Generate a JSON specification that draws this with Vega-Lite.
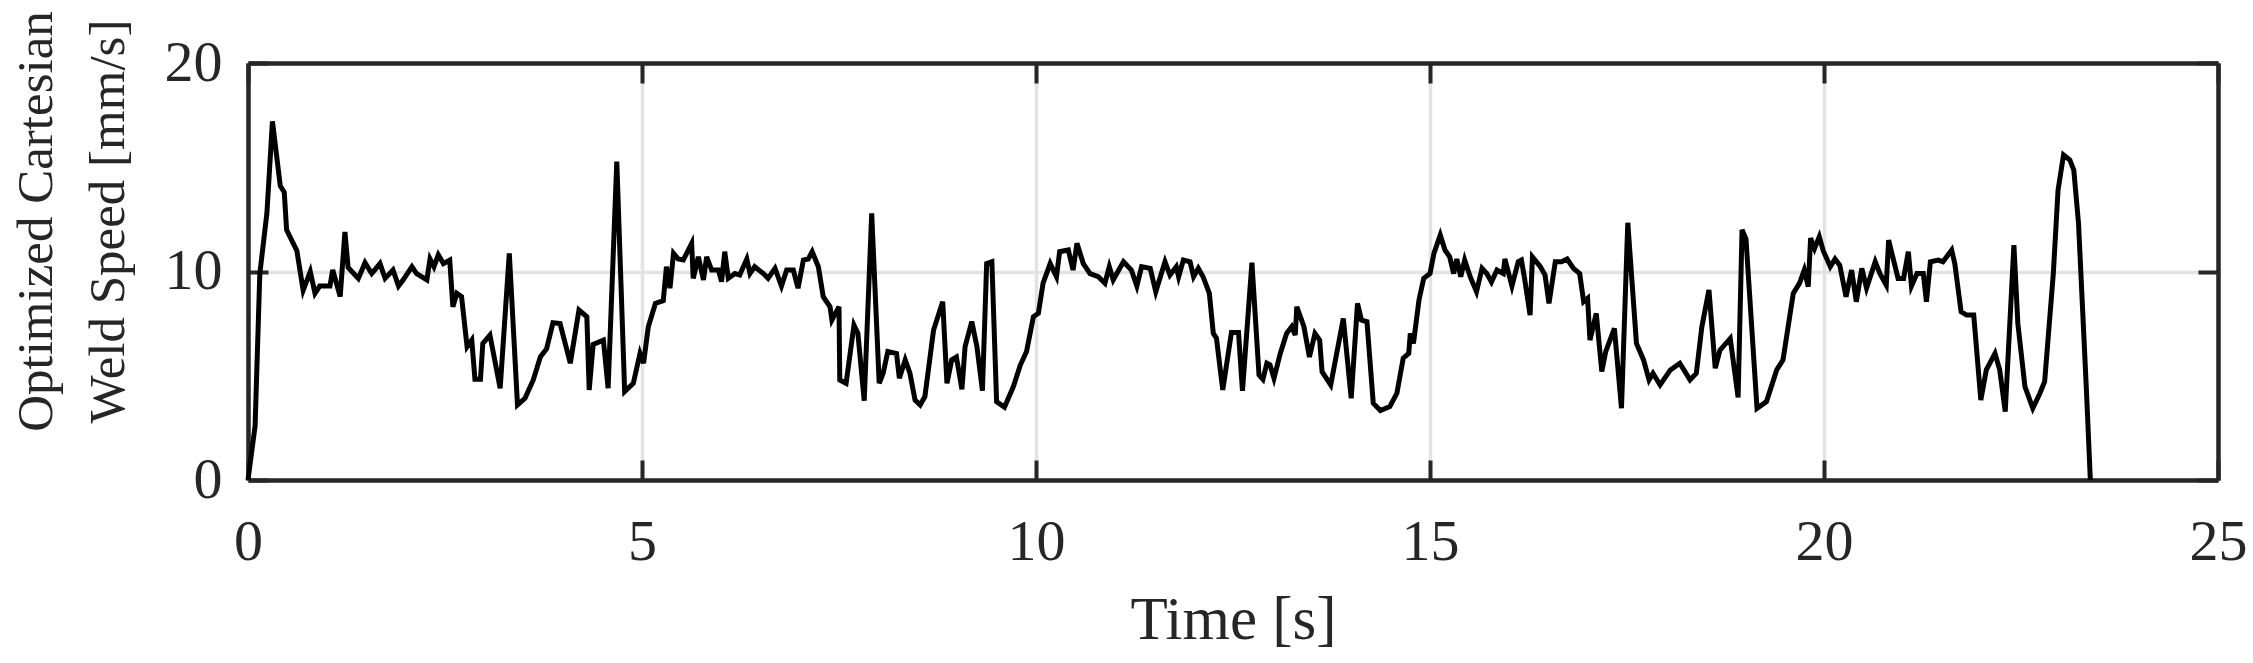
{
  "$schema": "https://vega.github.io/schema/vega-lite/v6.json",
  "width": 1970,
  "height": 417,
  "autosize": {"type": "none"},
  "padding": {"left": 248, "top": 63, "right": 35, "bottom": 183},
  "background": "white",
  "config": {"view": {"stroke": null}, "font": "Liberation Serif"},
  "data": {"values": [
    {"t":0,"v":0},{"t":0.09,"v":2.6},{"t":0.15,"v":9.9},{"t":0.24,"v":12.8},{"t":0.31,"v":17.2},{"t":0.41,"v":14.1},{"t":0.46,"v":13.8},{"t":0.49,"v":12.0},{"t":0.62,"v":11.0},{"t":0.70,"v":9.1},{"t":0.79,"v":10.0},{"t":0.85,"v":8.95},{"t":0.91,"v":9.3},{"t":1.04,"v":9.3},{"t":1.075,"v":10.07},{"t":1.17,"v":8.8},{"t":1.23,"v":11.9},{"t":1.27,"v":10.2},{"t":1.40,"v":9.67},{"t":1.485,"v":10.42},{"t":1.57,"v":9.9},{"t":1.675,"v":10.38},{"t":1.74,"v":9.67},{"t":1.84,"v":10.07},{"t":1.91,"v":9.3},{"t":1.97,"v":9.6},{"t":2.08,"v":10.23},{"t":2.14,"v":9.9},{"t":2.27,"v":9.6},{"t":2.31,"v":10.6},{"t":2.36,"v":10.23},{"t":2.415,"v":10.8},{"t":2.48,"v":10.38},{"t":2.56,"v":10.55},{"t":2.60,"v":8.31},{"t":2.65,"v":8.95},{"t":2.71,"v":8.79},{"t":2.78,"v":6.39},{"t":2.84,"v":6.71},{"t":2.88,"v":4.83},{"t":2.95,"v":4.83},{"t":2.98,"v":6.55},{"t":3.07,"v":6.95},{"t":3.20,"v":4.4},{"t":3.316,"v":10.87},{"t":3.42,"v":3.6},{"t":3.515,"v":3.92},{"t":3.62,"v":4.8},{"t":3.71,"v":5.9},{"t":3.79,"v":6.3},{"t":3.87,"v":7.54},{"t":3.96,"v":7.5},{"t":4.09,"v":5.6},{"t":4.20,"v":8.15},{"t":4.30,"v":7.83},{"t":4.33,"v":4.32},{"t":4.38,"v":6.5},{"t":4.51,"v":6.71},{"t":4.57,"v":4.4},{"t":4.68,"v":15.27},{"t":4.78,"v":4.24},{"t":4.89,"v":4.64},{"t":4.975,"v":6.07},{"t":5.02,"v":5.6},{"t":5.08,"v":7.35},{"t":5.17,"v":8.47},{"t":5.27,"v":8.6},{"t":5.31,"v":10.23},{"t":5.355,"v":9.2},{"t":5.40,"v":10.87},{"t":5.46,"v":10.6},
    {"t":5.524,"v":10.55},{"t":5.63,"v":11.35},{"t":5.65,"v":9.67},{"t":5.715,"v":10.7},{"t":5.78,"v":9.6},{"t":5.82,"v":10.7},{"t":5.884,"v":10.07},{"t":5.97,"v":10.07},{"t":6.01,"v":9.51},{"t":6.05,"v":10.95},{"t":6.095,"v":9.67},{"t":6.18,"v":9.9},{"t":6.24,"v":9.83},{"t":6.33,"v":10.6},{"t":6.37,"v":9.9},{"t":6.43,"v":10.23},{"t":6.54,"v":9.9},{"t":6.6,"v":9.67},{"t":6.688,"v":10.15},{"t":6.77,"v":9.3},{"t":6.836,"v":10.07},{"t":6.92,"v":10.07},{"t":6.98,"v":9.2},{"t":7.048,"v":10.55},{"t":7.11,"v":10.6},{"t":7.16,"v":10.95},{"t":7.238,"v":10.23},{"t":7.3,"v":8.79},{"t":7.386,"v":8.31},{"t":7.41,"v":7.67},{"t":7.50,"v":8.31},{"t":7.51,"v":4.8},{"t":7.59,"v":4.64},{"t":7.69,"v":7.43},{"t":7.74,"v":7.03},{"t":7.82,"v":3.8},{"t":7.915,"v":12.79},{"t":8.01,"v":4.64},{"t":8.06,"v":5.12},{"t":8.12,"v":6.16},{"t":8.23,"v":6.07},{"t":8.266,"v":4.88},{"t":8.34,"v":5.76},{"t":8.4,"v":5.12},{"t":8.465,"v":3.84},{"t":8.53,"v":3.6},{"t":8.59,"v":4.0},{"t":8.7,"v":7.19},{"t":8.816,"v":8.55},{"t":8.87,"v":4.64},{"t":8.93,"v":5.76},{"t":8.99,"v":5.9},{"t":9.06,"v":4.35},{"t":9.1,"v":6.4},{"t":9.185,"v":7.6},{"t":9.25,"v":6.4},{"t":9.32,"v":4.28},{"t":9.374,"v":10.38},{"t":9.44,"v":10.47},{"t":9.5,"v":3.76},{"t":9.6,"v":3.49},{"t":9.713,"v":4.48},{"t":9.8,"v":5.5},{"t":9.88,"v":6.16},{"t":9.967,"v":7.83},{"t":10.03,"v":7.99},{"t":10.09,"v":9.44},{"t":10.18,"v":10.38},{"t":10.26,"v":9.75},{"t":10.3,"v":10.95},{"t":10.41,"v":11.03},{"t":10.47,"v":10.07},{"t":10.52,"v":11.35},{"t":10.6,"v":10.38},{"t":10.686,"v":9.9},{"t":10.79,"v":9.75},
    {"t":10.875,"v":9.44},{"t":10.93,"v":10.23},{"t":10.98,"v":9.6},{"t":11.11,"v":10.47},{"t":11.21,"v":10.07},{"t":11.28,"v":9.3},{"t":11.34,"v":10.23},{"t":11.45,"v":10.15},{"t":11.52,"v":9.03},{"t":11.637,"v":10.47},{"t":11.7,"v":9.83},{"t":11.78,"v":10.23},{"t":11.81,"v":9.75},{"t":11.87,"v":10.55},{"t":11.955,"v":10.47},{"t":12.0,"v":9.75},{"t":12.06,"v":10.15},{"t":12.12,"v":9.75},{"t":12.2,"v":8.95},{"t":12.25,"v":7.03},{"t":12.29,"v":6.8},{"t":12.37,"v":4.32},{"t":12.48,"v":7.07},{"t":12.57,"v":7.07},{"t":12.62,"v":4.28},{"t":12.74,"v":10.42},{"t":12.83,"v":5.04},{"t":12.88,"v":4.83},{"t":12.93,"v":5.6},{"t":12.97,"v":5.52},{"t":13.02,"v":4.88},{"t":13.1,"v":6.07},{"t":13.18,"v":7.03},{"t":13.245,"v":7.35},{"t":13.29,"v":6.95},{"t":13.31,"v":8.31},{"t":13.4,"v":7.35},{"t":13.47,"v":5.9},{"t":13.54,"v":7.03},{"t":13.6,"v":6.71},{"t":13.63,"v":5.2},{"t":13.74,"v":4.56},{"t":13.9,"v":7.75},{"t":14.0,"v":3.92},{"t":14.08,"v":8.47},{"t":14.13,"v":7.67},{"t":14.2,"v":7.59},{"t":14.28,"v":3.68},{"t":14.37,"v":3.33},{"t":14.49,"v":3.52},{"t":14.58,"v":4.16},{"t":14.66,"v":5.84},{"t":14.73,"v":6.07},{"t":14.75,"v":7.03},{"t":14.79,"v":6.55},{"t":14.86,"v":8.63},{"t":14.92,"v":9.67},{"t":15.0,"v":9.9},{"t":15.05,"v":10.87},{"t":15.13,"v":11.75},{"t":15.19,"v":11.03},{"t":15.25,"v":10.7},{"t":15.3,"v":9.9},{"t":15.34,"v":10.6},{"t":15.39,"v":9.75},{"t":15.44,"v":10.55},{"t":15.51,"v":9.75},{"t":15.59,"v":9.03},{"t":15.66,"v":10.15},{"t":15.72,"v":9.9},{"t":15.78,"v":9.5},{"t":15.85,"v":10.07},{"t":15.93,"v":9.9},{"t":15.95,"v":10.6},{"t":16.04,"v":9.3},{"t":16.12,"v":10.47},
    {"t":16.16,"v":10.55},{"t":16.2,"v":9.67},{"t":16.27,"v":7.91},{"t":16.3,"v":10.7},{"t":16.4,"v":10.23},{"t":16.46,"v":9.83},{"t":16.51,"v":8.47},{"t":16.59,"v":10.47},{"t":16.67,"v":10.47},{"t":16.74,"v":10.6},{"t":16.82,"v":10.15},{"t":16.9,"v":9.9},{"t":16.95,"v":8.55},{"t":17.0,"v":8.71},{"t":17.03,"v":6.71},{"t":17.11,"v":7.99},{"t":17.18,"v":5.2},{"t":17.23,"v":6.16},{"t":17.34,"v":7.27},{"t":17.43,"v":3.44},{"t":17.51,"v":12.34},{"t":17.62,"v":6.55},{"t":17.71,"v":5.76},{"t":17.78,"v":4.8},{"t":17.83,"v":5.12},{"t":17.92,"v":4.56},{"t":18.05,"v":5.28},{"t":18.17,"v":5.6},{"t":18.3,"v":4.8},{"t":18.38,"v":5.12},{"t":18.45,"v":7.35},{"t":18.54,"v":9.11},{"t":18.62,"v":5.36},{"t":18.68,"v":6.23},{"t":18.81,"v":6.79},{"t":18.91,"v":3.96},{"t":18.96,"v":12.0},{"t":19.01,"v":11.55},{"t":19.15,"v":3.44},{"t":19.27,"v":3.76},{"t":19.4,"v":5.28},{"t":19.48,"v":5.76},{"t":19.61,"v":8.95},{"t":19.69,"v":9.44},{"t":19.75,"v":10.07},{"t":19.8,"v":9.27},{"t":19.83,"v":11.6},{"t":19.88,"v":11.1},{"t":19.94,"v":11.67},{"t":19.99,"v":11.0},{"t":20.08,"v":10.23},{"t":20.14,"v":10.6},{"t":20.2,"v":10.3},{"t":20.28,"v":8.79},{"t":20.35,"v":10.07},{"t":20.41,"v":8.55},{"t":20.48,"v":10.15},{"t":20.54,"v":9.2},{"t":20.65,"v":10.47},{"t":20.71,"v":9.9},{"t":20.79,"v":9.35},{"t":20.82,"v":11.5},{"t":20.94,"v":9.67},{"t":21.01,"v":9.67},{"t":21.07,"v":10.95},{"t":21.11,"v":9.3},{"t":21.18,"v":9.9},{"t":21.26,"v":9.9},{"t":21.3,"v":8.55},{"t":21.35,"v":10.47},{"t":21.45,"v":10.55},
    {"t":21.51,"v":10.47},{"t":21.62,"v":11.03},{"t":21.66,"v":10.38},{"t":21.74,"v":8.07},{"t":21.81,"v":7.91},{"t":21.9,"v":7.91},{"t":21.99,"v":3.84},{"t":22.06,"v":5.28},{"t":22.17,"v":6.07},{"t":22.23,"v":5.28},{"t":22.3,"v":3.28},{"t":22.41,"v":11.27},{"t":22.46,"v":7.51},{"t":22.55,"v":4.48},{"t":22.65,"v":3.44},{"t":22.74,"v":4.16},{"t":22.8,"v":4.72},{"t":22.91,"v":9.9},{"t":22.97,"v":13.9},{"t":23.04,"v":15.59},{"t":23.12,"v":15.35},{"t":23.17,"v":14.87},{"t":23.23,"v":12.31},{"t":23.28,"v":8.31},{"t":23.33,"v":4.32},{"t":23.38,"v":0}
  ]},
  "layer": [
    {
      "mark": {"type": "line", "color": "black", "strokeWidth": 5, "clip": false},
      "encoding": {
        "x": {"field": "t", "type": "quantitative",
          "scale": {"domain": [0, 25], "nice": false, "zero": false},
          "axis": {"orient": "bottom", "values": [0, 5, 10, 15, 20, 25], "format": "d",
            "grid": true, "gridColor": "#e2e2e2", "gridWidth": 3.5,
            "domain": true, "domainColor": "#262626", "domainWidth": 4.5,
            "ticks": true, "tickSize": -20, "tickWidth": 4, "tickColor": "#262626",
            "labelFont": "Liberation Serif", "labelFontSize": 58, "labelColor": "#262626", "labelPadding": 53, "labelFlush": false,
            "title": "Time [s]", "titleFont": "Liberation Serif", "titleFontSize": 61, "titleFontWeight": "normal", "titleColor": "#262626", "titlePadding": 19}},
        "y": {"field": "v", "type": "quantitative",
          "scale": {"domain": [0, 20], "nice": false},
          "axis": {"orient": "left", "values": [0, 10, 20], "format": "d",
            "grid": true, "gridColor": "#e2e2e2", "gridWidth": 3.5,
            "domain": true, "domainColor": "#262626", "domainWidth": 4.5,
            "ticks": true, "tickSize": -20, "tickWidth": 4, "tickColor": "#262626",
            "labelFont": "Liberation Serif", "labelFontSize": 58, "labelColor": "#262626", "labelPadding": 46,
            "title": ["Optimized Cartesian", "Weld Speed [mm/s]"], "titleFont": "Liberation Serif", "titleFontSize": 51, "titleFontWeight": "normal", "titleColor": "#262626",
            "titleLineHeight": 72, "titleAngle": -90, "titleBaseline": "middle", "titleAlign": "center", "titleX": -212, "titleY": 158}}
      }
    },
    {
      "mark": {"type": "line", "strokeOpacity": 0},
      "encoding": {
        "x": {"field": "t", "type": "quantitative",
          "axis": {"orient": "top", "values": [0, 5, 10, 15, 20, 25], "labels": false, "title": null, "grid": false,
            "domain": true, "domainColor": "#262626", "domainWidth": 4.5,
            "ticks": true, "tickSize": -20, "tickWidth": 4, "tickColor": "#262626"}},
        "y": {"field": "v", "type": "quantitative",
          "axis": {"orient": "right", "values": [0, 10, 20], "labels": false, "title": null, "grid": false,
            "domain": true, "domainColor": "#262626", "domainWidth": 4.5,
            "ticks": true, "tickSize": -20, "tickWidth": 4, "tickColor": "#262626"}}
      }
    }
  ],
  "resolve": {"axis": {"x": "independent", "y": "independent"}}
}
